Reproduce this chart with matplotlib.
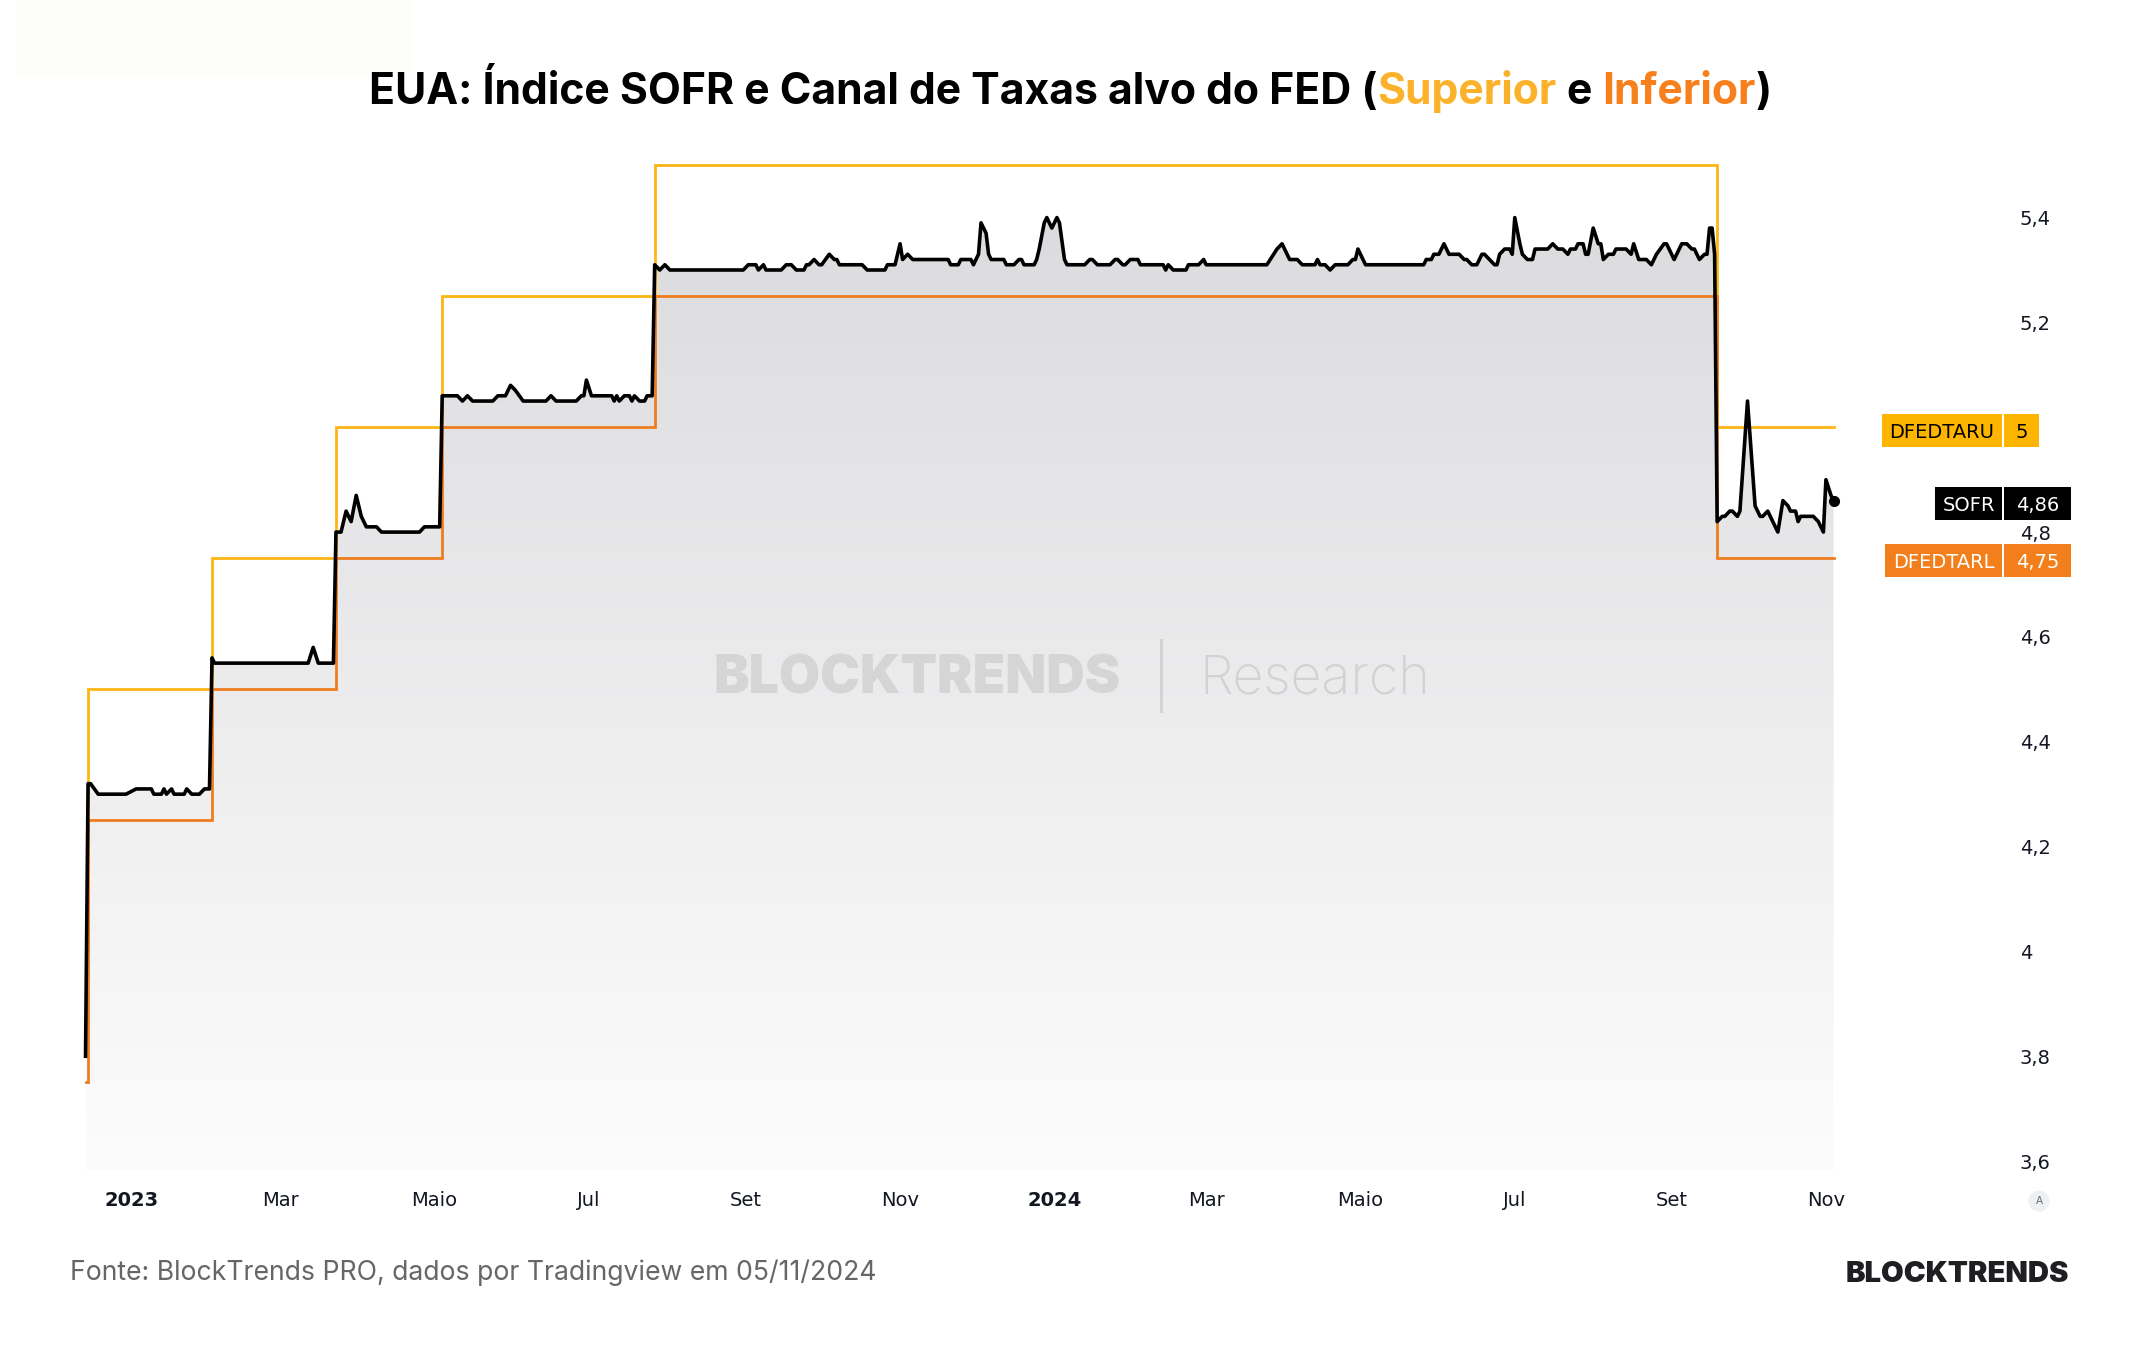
import matplotlib
matplotlib.use("Agg")
import matplotlib.pyplot as plt
import matplotlib.dates as mdates
import numpy as np
import pandas as pd
from matplotlib.transforms import blended_transform_factory
from matplotlib.patches import Rectangle, Ellipse
from matplotlib.lines import Line2D

# ---------------- data ----------------
sofr_dates = [
    "2022-12-14", "2022-12-15", "2022-12-16", "2022-12-19", "2022-12-30", "2023-01-03", "2023-01-09",
    "2023-01-10", "2023-01-13", "2023-01-14", "2023-01-15", "2023-01-17", "2023-01-18", "2023-01-22",
    "2023-01-23", "2023-01-25", "2023-01-28", "2023-01-30", "2023-02-01", "2023-02-02", "2023-02-03",
    "2023-03-12", "2023-03-14", "2023-03-16", "2023-03-22", "2023-03-23", "2023-03-25", "2023-03-27",
    "2023-03-29", "2023-03-31", "2023-04-02", "2023-04-04", "2023-04-08", "2023-04-10", "2023-04-25",
    "2023-04-27", "2023-05-03", "2023-05-04", "2023-05-10", "2023-05-12", "2023-05-14", "2023-05-16",
    "2023-05-24", "2023-05-26", "2023-05-29", "2023-05-31", "2023-06-02", "2023-06-05", "2023-06-14",
    "2023-06-16", "2023-06-18", "2023-06-26", "2023-06-28", "2023-06-29", "2023-06-30", "2023-07-02",
    "2023-07-10", "2023-07-11", "2023-07-12", "2023-07-13", "2023-07-15", "2023-07-17", "2023-07-18",
    "2023-07-19", "2023-07-21", "2023-07-23", "2023-07-24", "2023-07-26", "2023-07-27", "2023-07-29",
    "2023-07-31", "2023-08-02", "2023-08-31", "2023-09-02", "2023-09-05", "2023-09-06", "2023-09-08",
    "2023-09-09", "2023-09-15", "2023-09-17", "2023-09-19", "2023-09-21", "2023-09-24", "2023-09-25",
    "2023-09-26", "2023-09-28", "2023-09-30", "2023-10-01", "2023-10-04", "2023-10-06", "2023-10-07",
    "2023-10-08", "2023-10-17", "2023-10-19", "2023-10-26", "2023-10-27", "2023-10-30", "2023-11-01",
    "2023-11-02", "2023-11-04", "2023-11-06", "2023-11-20", "2023-11-21", "2023-11-24", "2023-11-25",
    "2023-11-29", "2023-11-30", "2023-12-02", "2023-12-03", "2023-12-05", "2023-12-06", "2023-12-07",
    "2023-12-12", "2023-12-13", "2023-12-16", "2023-12-18", "2023-12-19", "2023-12-20", "2023-12-24",
    "2023-12-25", "2023-12-26", "2023-12-28", "2023-12-29", "2023-12-31", "2024-01-02", "2024-01-03",
    "2024-01-05", "2024-01-06", "2024-01-13", "2024-01-15", "2024-01-16", "2024-01-18", "2024-01-23",
    "2024-01-25", "2024-01-26", "2024-01-28", "2024-01-29", "2024-01-31", "2024-02-03", "2024-02-04",
    "2024-02-13", "2024-02-14", "2024-02-15", "2024-02-17", "2024-02-22", "2024-02-23", "2024-02-27",
    "2024-02-29", "2024-03-01", "2024-03-25", "2024-03-29", "2024-03-31", "2024-04-01", "2024-04-03",
    "2024-04-06", "2024-04-08", "2024-04-13", "2024-04-14", "2024-04-15", "2024-04-17", "2024-04-19",
    "2024-04-21", "2024-04-26", "2024-04-28", "2024-04-29", "2024-04-30", "2024-05-02", "2024-05-03",
    "2024-05-26", "2024-05-27", "2024-05-29", "2024-05-30", "2024-06-01", "2024-06-03", "2024-06-05",
    "2024-06-09", "2024-06-11", "2024-06-12", "2024-06-14", "2024-06-16", "2024-06-18", "2024-06-19",
    "2024-06-21", "2024-06-23", "2024-06-24", "2024-06-25", "2024-06-27", "2024-06-29", "2024-06-30",
    "2024-07-01", "2024-07-03", "2024-07-04", "2024-07-06", "2024-07-08", "2024-07-09", "2024-07-14",
    "2024-07-16", "2024-07-18", "2024-07-20", "2024-07-22", "2024-07-23", "2024-07-25", "2024-07-26",
    "2024-07-28", "2024-07-29", "2024-07-30", "2024-08-01", "2024-08-03", "2024-08-04", "2024-08-05",
    "2024-08-07", "2024-08-09", "2024-08-10", "2024-08-14", "2024-08-16", "2024-08-17", "2024-08-19",
    "2024-08-22", "2024-08-24", "2024-08-26", "2024-08-29", "2024-08-30", "2024-09-02", "2024-09-05",
    "2024-09-07", "2024-09-09", "2024-09-10", "2024-09-12", "2024-09-14", "2024-09-15", "2024-09-16",
    "2024-09-17", "2024-09-18", "2024-09-19", "2024-09-21", "2024-09-22", "2024-09-24", "2024-09-25",
    "2024-09-27", "2024-09-28", "2024-10-01", "2024-10-04", "2024-10-06", "2024-10-07", "2024-10-09",
    "2024-10-13", "2024-10-15", "2024-10-17", "2024-10-18", "2024-10-20", "2024-10-21", "2024-10-22",
    "2024-10-27", "2024-10-29", "2024-10-30", "2024-10-31", "2024-11-01", "2024-11-03", "2024-11-04",
]
sofr_values = [
    3.80, 4.32, 4.32, 4.30, 4.30, 4.31, 4.31,
    4.30, 4.30, 4.31, 4.30, 4.31, 4.30, 4.30,
    4.31, 4.30, 4.30, 4.31, 4.31, 4.56, 4.55,
    4.55, 4.58, 4.55, 4.55, 4.80, 4.80, 4.84,
    4.82, 4.87, 4.83, 4.81, 4.81, 4.80, 4.80,
    4.81, 4.81, 5.06, 5.06, 5.05, 5.06, 5.05,
    5.05, 5.06, 5.06, 5.08, 5.07, 5.05, 5.05,
    5.06, 5.05, 5.05, 5.06, 5.06, 5.09, 5.06,
    5.06, 5.05, 5.06, 5.05, 5.06, 5.06, 5.05,
    5.06, 5.05, 5.05, 5.06, 5.06, 5.31, 5.30,
    5.31, 5.30, 5.30, 5.31, 5.31, 5.30, 5.31,
    5.30, 5.30, 5.31, 5.31, 5.30, 5.30, 5.31,
    5.31, 5.32, 5.31, 5.31, 5.33, 5.32, 5.32,
    5.31, 5.31, 5.30, 5.30, 5.31, 5.31, 5.35,
    5.32, 5.33, 5.32, 5.32, 5.31, 5.31, 5.32,
    5.32, 5.31, 5.33, 5.39, 5.37, 5.33, 5.32,
    5.32, 5.31, 5.31, 5.32, 5.32, 5.31, 5.31,
    5.32, 5.34, 5.39, 5.40, 5.38, 5.40, 5.39,
    5.32, 5.31, 5.31, 5.32, 5.32, 5.31, 5.31,
    5.32, 5.32, 5.31, 5.31, 5.32, 5.32, 5.31,
    5.31, 5.30, 5.31, 5.30, 5.30, 5.31, 5.31,
    5.32, 5.31, 5.31, 5.34, 5.35, 5.34, 5.32,
    5.32, 5.31, 5.31, 5.32, 5.31, 5.31, 5.30,
    5.31, 5.31, 5.32, 5.32, 5.34, 5.32, 5.31,
    5.31, 5.32, 5.32, 5.33, 5.33, 5.35, 5.33,
    5.33, 5.32, 5.32, 5.31, 5.31, 5.33, 5.33,
    5.32, 5.31, 5.31, 5.33, 5.34, 5.34, 5.33,
    5.40, 5.35, 5.33, 5.32, 5.32, 5.34, 5.34,
    5.35, 5.34, 5.34, 5.33, 5.34, 5.34, 5.35,
    5.35, 5.33, 5.33, 5.38, 5.35, 5.35, 5.32,
    5.33, 5.33, 5.34, 5.34, 5.33, 5.35, 5.32,
    5.32, 5.31, 5.33, 5.35, 5.35, 5.32, 5.35,
    5.35, 5.34, 5.34, 5.32, 5.33, 5.33, 5.38,
    5.38, 5.33, 4.82, 4.83, 4.83, 4.84, 4.84,
    4.83, 4.84, 5.05, 4.85, 4.83, 4.83, 4.84,
    4.80, 4.86, 4.85, 4.84, 4.84, 4.82, 4.83,
    4.83, 4.82, 4.81, 4.80, 4.90, 4.87, 4.86,
]

fed_change_dates = ["2022-12-14", "2022-12-15", "2023-02-02", "2023-03-23",
                    "2023-05-04", "2023-07-27", "2024-09-19", "2024-11-04"]
fed_upper = [4.00, 4.50, 4.75, 5.00, 5.25, 5.50, 5.00, 5.00]
fed_lower = [3.75, 4.25, 4.50, 4.75, 5.00, 5.25, 4.75, 4.75]

tick_dates = ["2023-01-01", "2023-03-01", "2023-05-01", "2023-07-01", "2023-09-01", "2023-11-01",
              "2024-01-01", "2024-03-01", "2024-05-01", "2024-07-01", "2024-09-01", "2024-11-01"]
tick_labels = ["2023", "Mar", "Maio", "Jul", "Set", "Nov", "2024", "Mar", "Maio", "Jul", "Set", "Nov"]
# 5,0 is covered by the DFEDTARU value box in the reference
y_ticks = [3.6, 3.8, 4.0, 4.2, 4.4, 4.6, 4.8, 5.2, 5.4]

# ---------------- style ----------------
W, H, DPI = 2144, 1350, 100
YEL = "#FDB515"
ORG = "#EE7D1F"
BOX_YEL = "#FDB500"
BOX_ORG = "#F27F1B"
TXT = "#131722"
TFONT = ["Inter", "DejaVu Sans"]
LFONT = ["DejaVu Sans"]

fig = plt.figure(figsize=(W / DPI, H / DPI), dpi=DPI)
fig.patch.set_facecolor("white")
renderer = fig.canvas.get_renderer()

# faint top-left block
fig.add_artist(Rectangle((16 / W, 1 - 78 / H), 394 / W, 78 / H, transform=fig.transFigure,
                         facecolor="#fdfdfa", edgecolor="none", zorder=0))

ax = fig.add_axes([40 / W, 1 - 1170 / H, (2003 - 40) / W, (1170 - 140) / H])
ax.set_facecolor("none")
for s in ax.spines.values():
    s.set_visible(False)

YMIN, YMAX = 3.583, 5.548
sd = pd.to_datetime(sofr_dates)
sv = np.array(sofr_values)
fd = pd.to_datetime(fed_change_dates)

# gradient fill under SOFR
poly = ax.fill_between(sd, sv, YMIN, facecolor="none", edgecolor="none")
xnum = mdates.date2num(sd)
g = np.linspace(0, 1, 256).reshape(-1, 1, 1)
top = np.array([218, 218, 221]) / 255.0
bot = np.array([252, 252, 252]) / 255.0
img = bot + (top - bot) * g
img = np.repeat(img, 2, axis=1)
im = ax.imshow(img, extent=[xnum[0], xnum[-1], YMIN, 5.5], origin="lower", aspect="auto",
               zorder=1, interpolation="bilinear")
im.set_clip_path(poly.get_paths()[0], transform=ax.transData)

ax.plot(fd, fed_upper, drawstyle="steps-post", color=YEL, lw=2.0, zorder=3, solid_joinstyle="miter")
ax.plot(fd, fed_lower, drawstyle="steps-post", color=ORG, lw=2.0, zorder=3, solid_joinstyle="miter")
ax.plot(sd, sv, color="black", lw=2.6, zorder=4, solid_joinstyle="round")
ax.plot(sd[-1:], sv[-1:], "o", color="black", ms=7, zorder=5)

ax.set_xlim(pd.Timestamp("2022-11-26"), pd.Timestamp("2025-01-10"))
ax.set_ylim(YMIN, YMAX)

# x ticks
ax.set_xticks(pd.to_datetime(tick_dates))
ax.set_xticklabels(tick_labels)
ax.tick_params(axis="x", length=0, pad=15, labelsize=14, labelcolor=TXT)
for lab in ax.get_xticklabels():
    lab.set_family(LFONT)
    if lab.get_text().isdigit():
        lab.set_fontweight("bold")

# y ticks on the right
ax.yaxis.tick_right()
ax.set_yticks(y_ticks)
ax.set_yticklabels([("%g" % v).replace(".", ",") for v in y_ticks])
ax.tick_params(axis="y", length=0, pad=12, labelsize=14, labelcolor=TXT)
for lab in ax.get_yticklabels():
    lab.set_family(LFONT)

# ---------------- right-side value boxes ----------------
bt = blended_transform_factory(fig.transFigure, ax.transData)
bh = 33 / ((1030) / (YMAX - YMIN))


def value_box(yv, name, val, x0, x2, fc, tc):
    x1 = 2002
    fig.add_artist(Rectangle((x0 / W, yv - bh / 2), (x1 - x0) / W, bh, transform=bt,
                             facecolor=fc, edgecolor="none", zorder=5))
    fig.add_artist(Rectangle(((x1 + 1.5) / W, yv - bh / 2), (x2 - x1 - 1.5) / W, bh, transform=bt,
                             facecolor=fc, edgecolor="none", zorder=5))
    fig.text((x0 + x1) / 2 / W, yv, name, transform=bt, ha="center", va="center_baseline",
             color=tc, fontsize=14, family=LFONT, zorder=6)
    fig.text((x1 + x2) / 2 / W + 1 / W, yv, val, transform=bt, ha="center", va="center_baseline",
             color=tc, fontsize=14, family=LFONT, zorder=6)


value_box(fed_upper[-1] - 0.006, "DFEDTARU", ("%g" % fed_upper[-1]).replace(".", ","), 1882, 2039, BOX_YEL, "black")
value_box(sv[-1] - 0.005, "SOFR", ("%.2f" % sv[-1]).replace(".", ","), 1935, 2071, "black", "white")
value_box(fed_lower[-1] - 0.004, "DFEDTARL", ("%.2f" % fed_lower[-1]).replace(".", ","), 1885, 2071, BOX_ORG, "white")

# ---------------- texts ----------------


def ptext(x, y, s, **kw):
    return fig.text(x / W, 1 - y / H, s, **kw)


def width_of(t):
    return t.get_window_extent(renderer).width


def fit(t, target):
    t.set_fontsize(t.get_fontsize() * target / width_of(t))
    return t


# title in colored pieces
title_parts = ["EUA: Índice SOFR e Canal de Taxas alvo do FED (", "Superior", " e ", "Inferior", ")"]
title_colors = ["black", "#FBB22A", "black", "#F77F1C", "black"]
tp = dict(family=TFONT, weight="bold", ha="left", va="baseline")
full = "".join(title_parts)
tmp = fit(ptext(0, 104, full, fontsize=30, **tp), 1404)
fs = tmp.get_fontsize()
tmp.remove()


def wid(s):
    t = ptext(0, 0, s, fontsize=fs, **tp)
    w = width_of(t)
    t.remove()
    return w


left = 369
prefix = ""
for part, col in zip(title_parts, title_colors):
    stripped = part.strip()
    lead = part[: len(part) - len(part.lstrip())]
    pre = prefix + lead
    c = stripped[0]
    x = left + (wid(pre + c) - wid(c) if pre else 0)
    ptext(x, 104, stripped, fontsize=fs, color=col, **tp)
    prefix += part

# watermark
fit(ptext(714, 693, "BLOCKTRENDS", fontsize=40, family=TFONT, weight="black", color="#d5d5d5",
          ha="left", va="baseline"), 407)
fig.add_artist(Line2D([1160.5 / W, 1160.5 / W], [1 - 640 / H, 1 - 711 / H], transform=fig.transFigure,
                      color="#d3d3d3", lw=2.2))
fit(ptext(1199, 693, "Research", fontsize=40, family=TFONT, weight="light", color="#d2d2d2",
          ha="left", va="baseline"), 231)

# footer
fit(ptext(70, 1280, "Fonte: BlockTrends PRO, dados por Tradingview em 05/11/2024", fontsize=18,
          family=TFONT, color="#666666", ha="left", va="baseline"), 805)
fit(ptext(1846, 1282, "BLOCKTRENDS", fontsize=20, family=TFONT, weight="black", color="#1f1f23",
          ha="left", va="baseline"), 223)

# small "A" badge
fig.add_artist(Ellipse((2039 / W, 1 - 1201 / H), 21 / W, 21 / H, transform=fig.transFigure,
                       facecolor="#eef0f3", edgecolor="none"))
ptext(2039, 1201, "A", fontsize=7.5, color="#6a6d78", ha="center", va="center", family=LFONT)

fig.savefig("out.png", dpi=DPI, facecolor="white")
